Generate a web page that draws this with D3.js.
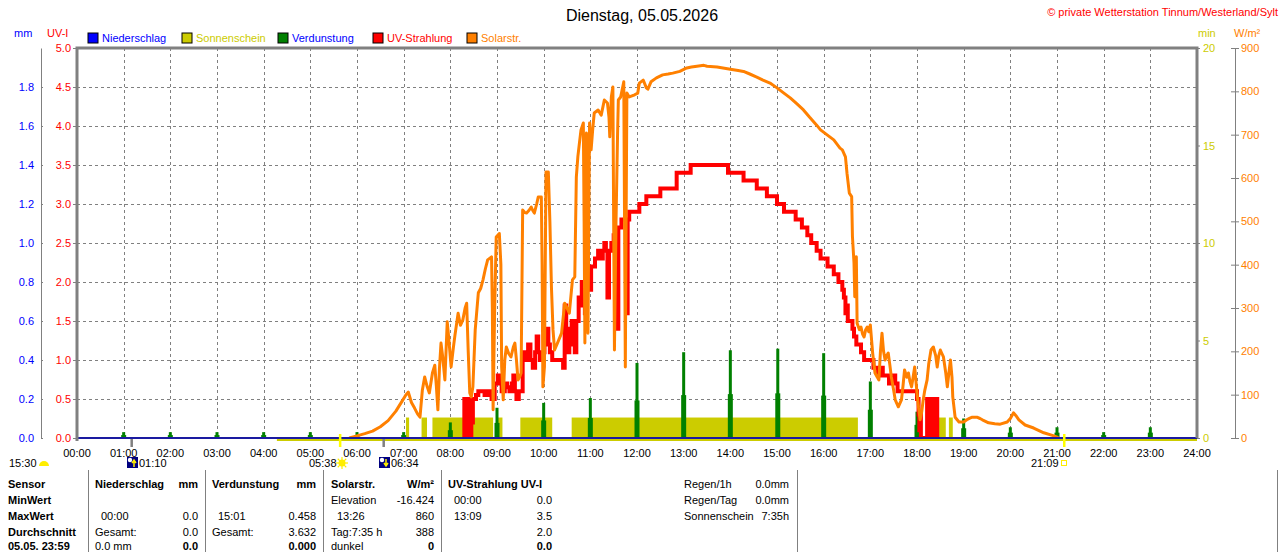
<!DOCTYPE html>
<html>
<head>
<meta charset="utf-8">
<script src="https://cdn.jsdelivr.net/npm/d3@7"></script>
<style>
  body { margin: 0; background: #fff; }
  svg { display: block; font-family: "Liberation Sans", Arial, sans-serif; font-size: 11px; }
</style>
</head>
<body>
<div class="chart"></div>
<script>
// ---- data ----
const title = 'Dienstag, 05.05.2026';
const copyright = '\u00a9 private Wetterstation Tinnum/Westerland/Sylt';

const hourLabels = ['00:00','01:00','02:00','03:00','04:00','05:00','06:00','07:00','08:00','09:00','10:00','11:00','12:00',
  '13:00','14:00','15:00','16:00','17:00','18:00','19:00','20:00','21:00','22:00','23:00','24:00'];
const uvTicks = [0, 0.5, 1, 1.5, 2, 2.5, 3, 3.5, 4, 4.5, 5];
const mmTicks = [0, 0.2, 0.4, 0.6, 0.8, 1.0, 1.2, 1.4, 1.6, 1.8];
const minTicks = [0, 5, 10, 15, 20];
const wTicks = [0, 100, 200, 300, 400, 500, 600, 700, 800, 900];

const legendNames = ['Niederschlag', 'Sonnenschein', 'Verdunstung', 'UV-Strahlung', 'Solarstr.'];

// Niederschlag (mm) - nothing fell
const rain = [['00:00', 0], ['24:00', 0]];

// Sonnenschein: sunny intervals (min per minute)
const sunBase = ['04:17', '24:00'];
const sunValue = 1.05;
const sunIntervals = [
  ['07:03', '07:07'], ['07:23', '07:30'], ['07:37', '08:55'], ['08:59', '09:07'],
  ['09:30', '10:11'], ['10:36', '16:44'], ['18:28', '18:37'], ['18:41', '18:46']
];

// Verdunstung (mm)
const evaporation = [
  ['01:00', 0.03], ['02:00', 0.03], ['03:00', 0.03], ['04:00', 0.03], ['05:00', 0.03], ['06:00', 0.03],
  ['07:00', 0.03], ['08:00', 0.08], ['09:00', 0.155], ['10:00', 0.18], ['11:00', 0.205], ['12:00', 0.385],
  ['13:00', 0.44], ['14:00', 0.45], ['15:01', 0.458], ['16:00', 0.435], ['17:00', 0.29], ['18:00', 0.135],
  ['19:00', 0.1], ['20:00', 0.055], ['21:00', 0.055], ['22:00', 0.03], ['23:00', 0.055]
];

// UV-Strahlung (UV-I)
const uv = [
  ['08:17', 0], ['08:18', 0.5], ['08:19', 0.1], ['08:20', 0.5], ['08:21', 0], ['08:22', 0.45], ['08:23', 0],
  ['08:24', 0.3], ['08:25', 0.5], ['08:26', 0], ['08:27', 0.5], ['08:28', 0.2], ['08:29', 0.5], ['08:33', 0.55],
  ['08:36', 0.6], ['08:44', 0.55], ['08:48', 0.6], ['08:53', 0.5], ['08:57', 0.7], ['09:01', 0.8], ['09:04', 0.7],
  ['09:06', 0.6], ['09:10', 0.7], ['09:13', 0.65], ['09:16', 0.6], ['09:19', 0.7], ['09:21', 0.8], ['09:23', 0.6],
  ['09:25', 0.5], ['09:28', 0.6], ['09:33', 1.1], ['09:37', 1.0], ['09:40', 1.2], ['09:43', 1.0], ['09:46', 0.9],
  ['09:49', 1.1], ['09:51', 1.3], ['09:53', 1.1], ['09:55', 1.0], ['09:58', 1.1], ['10:01', 1.3], ['10:03', 1.4],
  ['10:06', 1.2], ['10:08', 1.1], ['10:11', 1.0], ['10:25', 0.9], ['10:27', 1.7], ['10:29', 1.3], ['10:31', 1.1],
  ['10:33', 1.4], ['10:36', 1.5], ['10:38', 1.2], ['10:40', 1.1], ['10:42', 1.5], ['10:45', 1.8], ['10:47', 1.7],
  ['10:49', 2.0], ['10:51', 1.8], ['10:53', 1.6], ['10:55', 1.9], ['10:57', 2.1], ['10:59', 1.9], ['11:01', 2.2],
  ['11:06', 2.3], ['11:10', 2.4], ['11:12', 2.3], ['11:16', 2.4], ['11:18', 2.5], ['11:20', 2.4], ['11:22', 1.8],
  ['11:24', 2.4], ['11:27', 2.5], ['11:30', 2.6], ['11:33', 2.7], ['11:34', 1.4], ['11:36', 2.7], ['11:40', 2.8],
  ['11:46', 1.6], ['11:48', 2.8], ['11:50', 2.9], ['12:03', 3.0], ['12:12', 3.1], ['12:30', 3.2], ['12:51', 3.4],
  ['13:09', 3.5], ['13:57', 3.4], ['14:17', 3.3], ['14:34', 3.2], ['14:47', 3.1], ['15:00', 3.0], ['15:09', 2.9],
  ['15:24', 2.8], ['15:32', 2.7], ['15:39', 2.6], ['15:44', 2.5], ['15:51', 2.4], ['15:56', 2.3], ['16:05', 2.2],
  ['16:13', 2.1], ['16:19', 2.0], ['16:24', 1.9], ['16:26', 1.8], ['16:28', 1.6], ['16:29', 1.7], ['16:31', 1.5],
  ['16:37', 1.4], ['16:39', 1.3], ['16:42', 1.2], ['16:48', 1.1], ['16:52', 1.0], ['17:04', 0.9], ['17:10', 0.8],
  ['17:13', 0.9], ['17:16', 0.8], ['17:24', 0.7], ['17:28', 0.8], ['17:32', 0.7], ['17:35', 0.6], ['18:00', 0.5],
  ['18:02', 0.3], ['18:03', 0.1], ['18:04', 0.3], ['18:05', 0], ['18:13', 0.5], ['18:14', 0], ['18:15', 0.5],
  ['18:16', 0], ['18:17', 0.5], ['18:18', 0.1], ['18:19', 0.5], ['18:22', 0], ['18:23', 0.5], ['18:26', 0]
];

// Solarstrahlung (W/m²)
const solar = [
  ['05:50', 0], ['06:00', 5], ['06:10', 10], ['06:20', 16], ['06:30', 26], ['06:40', 40], ['06:50', 62],
  ['06:58', 85], ['07:03', 100], ['07:06', 106], ['07:10', 82], ['07:14', 69], ['07:18', 55], ['07:21', 48],
  ['07:24', 110], ['07:27', 141], ['07:30', 120], ['07:33', 104], ['07:37', 150], ['07:40', 168], ['07:42', 120],
  ['07:44', 65], ['07:46', 160], ['07:48', 219], ['07:50', 190], ['07:53', 134], ['07:56', 268], ['07:58', 230],
  ['08:01', 164], ['08:04', 210], ['08:06', 238], ['08:10', 288], ['08:13', 260], ['08:16', 272], ['08:19', 300],
  ['08:21', 311], ['08:23', 200], ['08:25', 104], ['08:27', 95], ['08:29', 118], ['08:32', 250], ['08:36', 335],
  ['08:39', 345], ['08:42', 365], ['08:45', 390], ['08:48', 411], ['08:53', 418], ['08:54', 300], ['08:55', 65],
  ['08:57', 300], ['08:59', 464], ['09:03', 472], ['09:05', 400], ['09:06', 164], ['09:08', 88], ['09:10', 180],
  ['09:12', 210], ['09:15', 195], ['09:18', 187], ['09:21', 210], ['09:23', 219], ['09:25', 180], ['09:27', 134],
  ['09:29', 140], ['09:31', 150], ['09:33', 526], ['09:36', 520], ['09:38', 519], ['09:41', 525], ['09:44', 533],
  ['09:46', 525], ['09:48', 519], ['09:51', 540], ['09:53', 556], ['09:57', 556], ['09:58', 400], ['09:59', 118],
  ['10:01', 164], ['10:03', 614], ['10:06', 614], ['10:08', 500], ['10:10', 348], ['10:12', 250], ['10:14', 203],
  ['10:18', 220], ['10:23', 242], ['10:27', 311], ['10:30', 300], ['10:33', 288], ['10:37', 365], ['10:40', 372],
  ['10:42', 602], ['10:44', 650], ['10:46', 681], ['10:48', 711], ['10:51', 727], ['10:52', 500], ['10:53', 219],
  ['10:54', 500], ['10:55', 704], ['10:56', 500], ['10:57', 242], ['10:58', 500], ['10:59', 727], ['11:01', 665],
  ['11:03', 711], ['11:05', 750], ['11:10', 757], ['11:14', 745], ['11:18', 780], ['11:22', 773], ['11:24', 740],
  ['11:25', 695], ['11:27', 787], ['11:29', 810], ['11:30', 500], ['11:31', 203], ['11:33', 496], ['11:35', 700],
  ['11:36', 780], ['11:39', 787], ['11:43', 822], ['11:44', 500], ['11:45', 164], ['11:46', 500], ['11:47', 796],
  ['11:50', 787], ['11:57', 792], ['12:01', 796], ['12:03', 819], ['12:08', 826], ['12:12', 808], ['12:14', 805],
  ['12:18', 822], ['12:25', 831], ['12:33', 838], ['12:40', 840], ['12:46', 842], ['12:55', 846], ['13:04', 854],
  ['13:10', 856], ['13:17', 858], ['13:26', 860], ['13:30', 858], ['13:43', 856], ['14:00', 851], ['14:10', 848],
  ['14:17', 846], ['14:25', 840], ['14:34', 833], ['14:42', 826], ['14:51', 819], ['15:00', 808], ['15:08', 797],
  ['15:17', 785], ['15:25', 772], ['15:34', 757], ['15:42', 740], ['15:51', 722], ['15:56', 711], ['16:04', 700],
  ['16:13', 688], ['16:21', 669], ['16:24', 665], ['16:28', 649], ['16:30', 611], ['16:33', 565], ['16:36', 557],
  ['16:37', 465], ['16:39', 404], ['16:40', 326], ['16:42', 418], ['16:43', 265], ['16:46', 250], ['16:48', 256],
  ['16:50', 240], ['16:52', 233], ['16:54', 250], ['16:56', 256], ['16:58', 245], ['17:00', 261], ['17:03', 196],
  ['17:06', 150], ['17:09', 140], ['17:11', 134], ['17:13', 200], ['17:15', 242], ['17:17', 200], ['17:19', 180],
  ['17:21', 190], ['17:23', 196], ['17:25', 170], ['17:27', 141], ['17:30', 110], ['17:32', 88], ['17:36', 72],
  ['17:40', 88], ['17:42', 120], ['17:44', 157], ['17:47', 140], ['17:49', 150], ['17:51', 130], ['17:53', 118],
  ['17:55', 140], ['17:57', 164], ['18:00', 104], ['18:02', 70], ['18:04', 42], ['18:06', 60], ['18:08', 88],
  ['18:10', 110], ['18:13', 134], ['18:15', 170], ['18:18', 203], ['18:21', 210], ['18:24', 190], ['18:26', 164],
  ['18:28', 190], ['18:30', 203], ['18:32', 195], ['18:34', 187], ['18:37', 150], ['18:39', 118], ['18:41', 150],
  ['18:43', 180], ['18:45', 140], ['18:46', 95], ['18:49', 48], ['18:54', 37], ['19:00', 37], ['19:04', 42],
  ['19:08', 46], ['19:11', 48], ['19:17', 48], ['19:21', 45], ['19:24', 42], ['19:32', 35], ['19:40', 33],
  ['19:47', 32], ['19:56', 37], ['20:00', 45], ['20:04', 58], ['20:07', 52], ['20:11', 42], ['20:19', 30],
  ['20:30', 23], ['20:43', 12], ['20:56', 5], ['21:00', 2], ['21:02', 0]
];

// sun and moon times
const moonTimes = ['01:10', '06:34'];
const sunTimes = ['05:38', '21:09'];
const moonPhaseTime = '15:30';

// table below the chart
const tableHeader = ['Sensor', 'Niederschlag', 'mm', 'Verdunstung', 'mm', 'Solarstr.', 'W/m\u00b2', 'UV-Strahlung UV-I'];
const rowLabels = ['MinWert', 'MaxWert', 'Durchschnitt', '05.05. 23:59'];
const rainCells = [['', ''], ['00:00', '0.0'], ['Gesamt:', '0.0'], ['0.0 mm', '0.0']];
const evapCells = [['', ''], ['15:01', '0.458'], ['Gesamt:', '3.632'], ['', '0.000']];
const solarCells = [['Elevation', '-16.424'], ['13:26', '860'], ['Tag:7:35 h', '388'], ['dunkel', '0']];
const uvCells = [['00:00', '0.0'], ['13:09', '3.5'], ['', '2.0'], ['', '0.0']];
const summaryLabels = ['Regen/1h', 'Regen/Tag', 'Sonnenschein'];
const summaryValues = ['0.0mm', '0.0mm', '7:35h'];

// ---- drawing ----
const W = 1280, H = 552;
const pL = 77, pR = 1197, pT = 48, pB = 438;
const GRAY = '#808080';
const colors = {
  Niederschlag: '#0000ff', Sonnenschein: '#cccc00', Verdunstung: '#008000',
  'UV-Strahlung': '#ff0000', 'Solarstr.': '#ff8000'
};
const textColors = {
  Niederschlag: '#0000ff', Sonnenschein: '#cccc00', Verdunstung: '#0000ff',
  'UV-Strahlung': '#ff0000', 'Solarstr.': '#ff8000'
};

const toMin = (s) => { const [h, m] = s.split(':').map(Number); return h * 60 + m; };

const svg = d3.select('.chart').append('svg')
  .attr('width', W)
  .attr('height', H);

const x = d3.scaleLinear().domain([0, 1440]).range([pL, pR]);
const yUV = d3.scaleLinear().domain([0, 5]).range([pB, pT]);
const yMM = d3.scaleLinear().domain([0, 2]).range([pB, pT]);
const yMin = d3.scaleLinear().domain([0, 20]).range([pB, pT]);
const yW = d3.scaleLinear().domain([0, 900]).range([pB, pT]);

// title + copyright
svg.append('text').attr('x', 642).attr('y', 21).attr('text-anchor', 'middle')
  .style('font-size', '16px').attr('fill', '#000').text(title);
svg.append('text').attr('x', 1278).attr('y', 16).attr('text-anchor', 'end')
  .attr('fill', '#ff0000').text(copyright);

// axis titles
svg.append('text').attr('x', 14).attr('y', 37).attr('fill', '#0000ff').text('mm');
svg.append('text').attr('x', 47).attr('y', 37).attr('fill', '#ff0000').text('UV-I');
svg.append('text').attr('x', 1198).attr('y', 37).attr('fill', '#cccc00').text('min');
svg.append('text').attr('x', 1234).attr('y', 37).attr('fill', '#ff8000').text('W/m\u00b2');

// legend
const legendX = [88, 182, 278, 373, 467];
const legend = svg.append('g').selectAll('g').data(legendNames).join('g')
  .attr('transform', (d, i) => `translate(${legendX[i]},33)`);
legend.append('rect').attr('width', 10).attr('height', 10)
  .attr('fill', (d) => colors[d]).attr('stroke', '#000').attr('stroke-width', 1);
legend.append('text').attr('x', 14).attr('y', 9).attr('fill', (d) => textColors[d]).text((d) => d);

// grid
const grid = svg.append('g').attr('stroke', GRAY).attr('stroke-dasharray', '3,3').attr('stroke-width', 1);
grid.selectAll('line.v').data(d3.range(1, 24)).join('line')
  .attr('x1', (d) => Math.round(x(d * 60)) + 0.5).attr('x2', (d) => Math.round(x(d * 60)) + 0.5)
  .attr('y1', pT).attr('y2', pB);
grid.selectAll('line.h').data(uvTicks.slice(1, -1)).join('line')
  .attr('x1', pL).attr('x2', pR)
  .attr('y1', (d) => Math.round(yUV(d)) + 0.5).attr('y2', (d) => Math.round(yUV(d)) + 0.5);

// axes
const styleAxis = (g, color) => {
  g.attr('font-family', null).attr('font-size', null);
  g.selectAll('.tick line').attr('stroke', GRAY);
  g.selectAll('.tick text').attr('fill', color);
  g.select('.domain').attr('stroke', GRAY);
};
svg.append('g').attr('transform', `translate(${pL},0)`)
  .call(d3.axisLeft(yUV).tickValues(uvTicks).tickFormat(d3.format('.1f')).tickSize(4).tickPadding(2))
  .call((g) => { styleAxis(g, '#ff0000'); g.select('.domain').remove(); });
svg.append('g').attr('transform', 'translate(41,0)')
  .call(d3.axisLeft(yMM).tickValues(mmTicks).tickFormat(d3.format('.1f')).tickSizeInner(4).tickSizeOuter(0).tickPadding(3))
  .call((g) => { styleAxis(g, '#0000ff'); g.selectAll('.tick line').attr('x2', 2); });

svg.append('g').attr('transform', `translate(${pR},0)`)
  .call(d3.axisRight(yMin).tickValues(minTicks).tickSize(3).tickPadding(3))
  .call((g) => { styleAxis(g, '#cccc00'); g.select('.domain').remove(); });
svg.append('g').attr('transform', 'translate(1235,0)')
  .call(d3.axisRight(yW).tickValues(wTicks).tickSizeInner(4).tickSizeOuter(0).tickPadding(2))
  .call((g) => { styleAxis(g, '#ff8000'); g.selectAll('.tick line').attr('x1', -4); });

// x axis labels
svg.append('g').selectAll('text').data(hourLabels).join('text')
  .attr('x', (d, i) => x(i * 60)).attr('y', 457).attr('text-anchor', 'middle')
  .attr('fill', '#000').text((d) => d);

// clip for data lines
svg.append('clipPath').attr('id', 'plot')
  .append('rect').attr('x', pL).attr('y', pT).attr('width', pR - pL).attr('height', pB - pT - 0.5);

// Sonnenschein
svg.append('line')
  .attr('x1', x(toMin(sunBase[0]))).attr('x2', x(toMin(sunBase[1])))
  .attr('y1', pB + 1.5).attr('y2', pB + 1.5)
  .attr('stroke', colors.Sonnenschein).attr('stroke-width', 3);
svg.append('g').selectAll('rect').data(sunIntervals).join('rect')
  .attr('x', (d) => x(toMin(d[0])))
  .attr('width', (d) => x(toMin(d[1])) - x(toMin(d[0])))
  .attr('y', yMin(sunValue)).attr('height', pB - yMin(sunValue))
  .attr('fill', colors.Sonnenschein);

// Verdunstung
const evap = svg.append('g').attr('fill', colors.Verdunstung);
evap.selectAll('rect.base').data(evaporation).join('rect')
  .attr('x', (d) => x(toMin(d[0])) - 2.5).attr('width', 5)
  .attr('y', (d) => yMM(d[1] * 0.5)).attr('height', (d) => pB - yMM(d[1] * 0.5));
evap.selectAll('rect.top').data(evaporation).join('rect')
  .attr('x', (d) => x(toMin(d[0])) - 1.5).attr('width', 3)
  .attr('y', (d) => yMM(d[1])).attr('height', (d) => pB - yMM(d[1]));

// UV-Strahlung
svg.append('path').datum(uv)
  .attr('clip-path', 'url(#plot)')
  .attr('fill', 'none').attr('stroke', colors['UV-Strahlung']).attr('stroke-width', 4)
  .attr('stroke-linejoin', 'miter')
  .attr('d', d3.line().curve(d3.curveStepAfter).x((d) => x(toMin(d[0]))).y((d) => yUV(d[1])));

// Solarstrahlung
svg.append('path').datum(solar)
  .attr('clip-path', 'url(#plot)')
  .attr('fill', 'none').attr('stroke', colors['Solarstr.']).attr('stroke-width', 3)
  .attr('stroke-linejoin', 'round')
  .attr('d', d3.line().x((d) => x(toMin(d[0]))).y((d) => yW(d[1])));

// Niederschlag
svg.append('path').datum(rain)
  .attr('fill', 'none').attr('stroke', '#1a1aa0').attr('stroke-width', 2)
  .attr('d', d3.line().x((d) => x(toMin(d[0]))).y((d) => yMM(d[1])));

// frame
svg.append('path')
  .attr('d', `M${pL},${pB + 3}V${pT}H${pR}V${pB}`)
  .attr('fill', 'none').attr('stroke', GRAY).attr('stroke-width', 3);

// moon / sun markers under the axis
svg.append('g').selectAll('rect').data(moonTimes).join('rect')
  .attr('x', (d) => x(toMin(d)) - 1).attr('y', pB + 1).attr('width', 2.5).attr('height', 8)
  .attr('fill', GRAY);
svg.append('g').selectAll('rect').data(sunTimes).join('rect')
  .attr('x', (d) => x(toMin(d)) - 1).attr('y', pB - 4).attr('width', 2.5).attr('height', 13)
  .attr('fill', '#ffff00');

const iy = 467;
// moon phase
svg.append('text').attr('x', 9).attr('y', iy).attr('fill', '#000').text(moonPhaseTime);
svg.append('path').attr('d', 'M39,466 A5,5 0 0 1 49,466 Z').attr('fill', '#ffee00');
const moonIcon = (gx, up) => {
  const g = svg.append('g').attr('transform', `translate(${gx},457)`);
  g.append('rect').attr('width', 11).attr('height', 11).attr('fill', '#000080');
  g.append('circle').attr('cx', 3).attr('cy', 3).attr('r', 2.2).attr('fill', '#fff');
  g.append('path').attr('d', up ? 'M7,10V4M5,6L7,3L9,6' : 'M7,2V8M5,6L7,9L9,6')
    .attr('stroke', '#ffee00').attr('stroke-width', 1.5).attr('fill', 'none');
};
moonIcon(127, true);
svg.append('text').attr('x', 139).attr('y', iy).attr('fill', '#000').text(moonTimes[0]);
svg.append('text').attr('x', 309).attr('y', iy).attr('fill', '#000').text(sunTimes[0]);
const sun = svg.append('g').attr('transform', 'translate(342,463)');
sun.selectAll('line').data(d3.range(8)).join('line')
  .attr('x1', (d) => 3 * Math.cos(d * Math.PI / 4)).attr('y1', (d) => 3 * Math.sin(d * Math.PI / 4))
  .attr('x2', (d) => 6 * Math.cos(d * Math.PI / 4)).attr('y2', (d) => 6 * Math.sin(d * Math.PI / 4))
  .attr('stroke', '#ffee00').attr('stroke-width', 1.2);
sun.append('circle').attr('r', 3.5).attr('fill', '#ffee00');
moonIcon(379, false);
svg.append('text').attr('x', 391).attr('y', iy).attr('fill', '#000').text(moonTimes[1]);
svg.append('text').attr('x', 1031).attr('y', iy).attr('fill', '#000').text(sunTimes[1]);
svg.append('rect').attr('x', 1061.5).attr('y', 460.5).attr('width', 5).attr('height', 5)
  .attr('fill', 'none').attr('stroke', '#ffee00').attr('stroke-width', 1);

// ---- table ----
const rowY = [488, 504, 520, 536, 550];
const table = svg.append('g').attr('fill', '#000');
[88, 205, 323, 441, 797, 1277].forEach((sx) => {
  table.append('line').attr('x1', sx + 0.5).attr('x2', sx + 0.5).attr('y1', 470).attr('y2', H)
    .attr('stroke', GRAY).attr('stroke-width', 1);
});
const bold = (t) => t.attr('font-weight', 'bold');

const headerPos = [[8, 'start'], [95, 'start'], [198, 'end'], [212, 'start'], [316, 'end'], [331, 'start'], [434, 'end'], [448, 'start']];
tableHeader.forEach((t, i) => {
  bold(table.append('text').attr('x', headerPos[i][0]).attr('y', rowY[0]).attr('text-anchor', headerPos[i][1]).text(t));
});
rowLabels.forEach((t, i) => {
  bold(table.append('text').attr('x', 8).attr('y', rowY[i + 1]).text(t));
});

const isTime = (s) => /^\d\d:\d\d$/.test(s);
const cellColumns = [[rainCells, 95, 198], [evapCells, 212, 316], [solarCells, 331, 434], [uvCells, 448, 552]];
cellColumns.forEach(([cells, lx, rx]) => {
  cells.forEach((c, i) => {
    const last = i === cells.length - 1;
    table.append('text').attr('x', lx + (isTime(c[0]) ? 6 : 0)).attr('y', rowY[i + 1]).text(c[0]);
    const v = table.append('text').attr('x', rx).attr('y', rowY[i + 1]).attr('text-anchor', 'end').text(c[1]);
    if (last) bold(v);
  });
});

summaryLabels.forEach((t, i) => {
  table.append('text').attr('x', 684).attr('y', rowY[i]).text(t);
  table.append('text').attr('x', 789).attr('y', rowY[i]).attr('text-anchor', 'end').text(summaryValues[i]);
});
</script>
</body>
</html>
